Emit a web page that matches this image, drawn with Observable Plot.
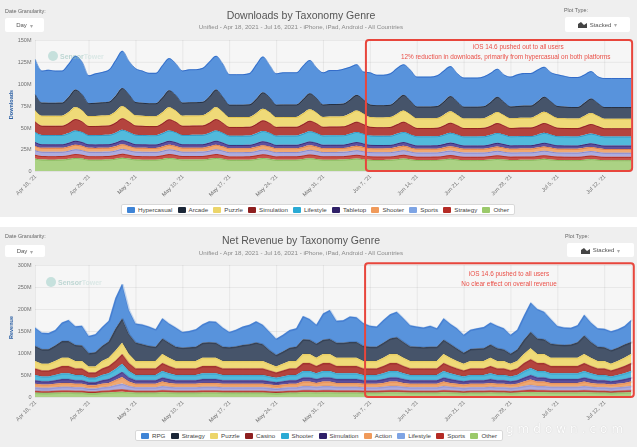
<!DOCTYPE html>
<html><head><meta charset="utf-8">
<script src="https://cdn.jsdelivr.net/npm/d3@7"></script>
<script src="https://cdn.jsdelivr.net/npm/@observablehq/plot@0.6"></script>
<style>
html,body{margin:0;padding:0;background:#fff;}
#root{position:relative;width:637px;height:447px;overflow:hidden;font-family:"Liberation Sans",Arial,Helvetica,sans-serif;}
.panel{position:absolute;left:0;width:637px;background:#efefef;}
.abs{position:absolute;white-space:nowrap;}
.title{left:0;width:602px;text-align:center;font-size:10.5px;color:#555;line-height:12px;}
.sub{left:0;width:602px;text-align:center;font-size:6.2px;color:#8a8a8a;line-height:8px;}
.lbl{font-size:5.4px;color:#666;line-height:7px;}
.dd{position:absolute;background:#fff;border-radius:2px;font-size:6px;color:#555;display:flex;align-items:center;justify-content:center;gap:3px;}
.plotbg{position:absolute;left:35px;width:596px;background:#f6f6f6;}
.ytitle{position:absolute;width:40px;text-align:center;font-size:5.5px;font-weight:bold;color:#2f62a5;transform:rotate(-90deg);line-height:7px;}
.legend{position:absolute;height:11px;background:#fff;border:1px solid #d8d8d8;border-radius:2px;display:flex;align-items:center;justify-content:space-between;padding:0 5px;box-sizing:border-box;font-size:6.2px;color:#444;}
.item{display:flex;align-items:center;}
.sw{width:8px;height:6px;border-radius:1px;margin-right:3px;}
.logo{position:absolute;display:flex;align-items:center;gap:2px;font-size:7px;font-weight:bold;opacity:0.55;}
.logo .c{width:10px;height:10px;border-radius:50%;background:#9fcfc8;}
.chart{position:absolute;left:0;}
.wm{position:absolute;left:506px;top:422px;width:125px;white-space:nowrap;font-size:12px;letter-spacing:4px;line-height:14px;color:#fff;opacity:0.9;font-family:"DejaVu Sans",sans-serif;text-shadow:0 0 1px #bbb;}
</style>
</head><body>
<div id="root">
  <div class="panel" style="top:0;height:217px;">
    <div class="plotbg" style="top:40px;height:131px;"></div>
    <div class="abs lbl" style="left:5px;top:8px;">Date Granularity:</div>
    <div class="dd" style="left:5px;top:18px;width:39px;height:14px;">Day <span style="color:#aaa">▾</span></div>
    <div class="abs title" style="top:9px;">Downloads by Taxonomy Genre</div>
    <div class="abs sub" style="top:23px;">Unified - Apr 18, 2021 - Jul 16, 2021 - iPhone, iPad, Android - All Countries</div>
    <div class="abs lbl" style="left:564px;top:7px;">Plot Type:</div>
    <div class="dd" style="left:565px;top:17px;width:65px;height:15px;"><svg width="9" height="7"><path d="M0,7 L0,3 L3,1 L6,4 L9,2 L9,7 Z" fill="#444"/></svg>Stacked <span style="color:#aaa">▾</span></div>
    <div class="ytitle" style="left:-9px;top:101px;">Downloads</div>
    <div id="chart1" class="chart" style="top:0;"></div>
    <div class="logo" style="left:48px;top:51px;"><div class="c"></div><span style="color:#8fbdb7">Sensor</span><span style="color:#c4ddd9;margin-left:-2px">Tower</span></div>
    <div id="legend1" class="legend" style="left:121px;top:204px;width:394px;"></div>
  </div>
  <div class="panel" style="top:227px;height:220px;">
    <div class="plotbg" style="top:38px;height:132px;"></div>
    <div class="abs lbl" style="left:5px;top:6px;">Date Granularity:</div>
    <div class="dd" style="left:5px;top:18px;width:40px;height:12px;">Day <span style="color:#aaa">▾</span></div>
    <div class="abs title" style="top:7px;">Net Revenue by Taxonomy Genre</div>
    <div class="abs sub" style="top:22px;">Unified - Apr 18, 2021 - Jul 16, 2021 - iPhone, iPad, Android - All Countries</div>
    <div class="abs lbl" style="left:565px;top:6px;">Plot Type:</div>
    <div class="dd" style="left:567px;top:16px;width:67px;height:14px;"><svg width="9" height="7"><path d="M0,7 L0,3 L3,1 L6,4 L9,2 L9,7 Z" fill="#444"/></svg>Stacked <span style="color:#aaa">▾</span></div>
    <div class="ytitle" style="left:-9px;top:97px;">Revenue</div>
    <div id="chart2" class="chart" style="top:0;"></div>
    <div class="logo" style="left:46px;top:50px;"><div class="c"></div><span style="color:#8fbdb7">Sensor</span><span style="color:#c4ddd9;margin-left:-2px">Tower</span></div>
    <div id="legend2" class="legend" style="left:135px;top:203px;width:368px;"></div>
  </div>
  <div class="wm">gmdown.com</div>
</div>
<script>
// ---------- shared x categories ----------
const startDay = "2021-04-18", endDay = "2021-07-16";
const tickLabels = ["2021-04-18","2021-04-26","2021-05-03","2021-05-10","2021-05-17","2021-05-24","2021-05-31","2021-06-07","2021-06-14","2021-06-21","2021-06-28","2021-07-05","2021-07-12"];

// ---------- Downloads (millions / day) ----------
const dlNames = ["Hypercasual","Arcade","Puzzle","Simulation","Lifestyle","Tabletop","Shooter","Sports","Strategy","Other"];
const dlHypercasual = [
40.4,36.8,37.8,36.8,36.8,38,38.7, 37.4,31.8,33.8,34.8,36.8,41,42.7, 38.4,38.8,36.8,34.8,34.8,37,36.7,
36.4,36.8,37.8,37.8,38.8,40,38.7, 38.1,34.9,34.9,34.9,35.9,39.5,41.1, 37.1,35.9,36.9,36.9,36.9,38.5,38.1,
35.1,36.9,38.9,38.9,39.9,37.5,35.1, 32.1,36.9,34.9,34.9,35.9,36.5,35.1, 35.5,34.3,34.3,34.3,35.3,35.5,34.3,
32.5,33.3,33.3,33.3,34.3,33.5,32.3, 31.5,34.3,36.3,37.3,37.3,36.5,34.3, 33.5,36.3,35.3,34.3,34.3,32.5,31.3,
30.5,33.3,33.3,33.3,33.3,33.3];
const dlArcade = [
18,15,15,15,15,17.5,20, 18,14.8,15,15.2,15.5,18,20.5, 18,15.2,15,14.8,14.8,17.2,19.6,
17.6,15,15.2,15.2,15.4,17.6,20, 17,14.2,14.2,14.2,14.4,16.5,18.8, 16.8,14.2,14.3,14.3,14.3,16.4,18.4,
16.4,14.2,14.4,14.4,14.6,16.2,17.8, 16,14.2,14,14,14.2,16,17.8, 15.5,13.5,13.5,13.5,13.7,15.5,17.5,
15.2,13.5,13.5,13.5,13.7,15.3,17.2, 15,13.5,13.7,13.9,13.9,15.5,17.3, 15.3,13.7,13.5,13.3,13.3,15,16.8,
14.8,13.3,13.3,13.3,13.3,13.3];
const dlPuzzle = [
13,11.5,11.5,11.5,11.5,12.5,13.8, 13,11.4,11.5,11.6,11.7,12.7,14, 13,11.6,11.5,11.4,11.4,12.4,13.7,
12.9,11.5,11.6,11.6,11.7,12.6,13.8, 12.6,11.3,11.3,11.3,11.3,12.2,13.3, 12.5,11.3,11.3,11.3,11.3,12.2,13.1,
12.4,11.3,11.4,11.4,11.5,12.1,12.9, 12.2,11.3,11.2,11.2,11.3,12,12.9, 12.2,11,11,11,11.1,12,13,
12,11,11,11,11.1,11.9,12.8, 11.9,11,11.1,11.2,11.2,12,12.8, 12,11.1,11,10.9,10.9,11.7,12.5,
11.8,10.9,10.9,10.9,10.9,10.9];
const dlSimulation = [
12,10.5,10.5,10.5,10.5,11.5,13, 12,10.4,10.5,10.6,10.7,11.7,13.3, 12,10.6,10.5,10.4,10.4,11.4,12.9,
11.9,10.5,10.6,10.6,10.7,11.6,13, 11.5,10,10,10,10,11,12.3, 11.4,10,10,10,10,11,12.1,
11.2,10,10.1,10.1,10.2,10.9,11.8, 11,10,9.9,9.9,10,10.8,11.8, 10.8,9.6,9.6,9.6,9.7,10.5,11.5,
10.6,9.6,9.6,9.6,9.7,10.4,11.3, 10.5,9.6,9.7,9.8,9.8,10.5,11.3, 10.6,9.7,9.6,9.5,9.5,10.2,11,
10.3,9.5,9.5,9.5,9.5,9.5];
const dlLifestyle = [
11.5,10.7,10.7,10.7,10.7,11.1,11.8, 11.5,10.6,10.7,10.8,10.8,11.2,11.9, 11.5,10.8,10.7,10.6,10.6,11.1,11.8,
11.4,10.7,10.7,10.8,10.8,11.1,11.8, 11.3,10.6,10.6,10.6,10.6,11,11.6, 11.3,10.6,10.6,10.6,10.6,11,11.6,
11.2,10.6,10.7,10.7,10.7,11,11.5, 11.1,10.6,10.5,10.5,10.5,11,11.5, 11,10.4,10.4,10.4,10.4,10.8,11.3,
11,10.4,10.4,10.4,10.4,10.8,11.3, 10.9,10.4,10.5,10.5,10.5,10.8,11.3, 10.9,10.5,10.4,10.4,10.4,10.7,11.1,
10.8,10.4,10.4,10.4,10.4,10.4];
const dlTabletop = [
4.4,4,4,4,4,4.3,4.6, 4.4,4,4,4,4,4.3,4.7, 4.4,4,4,4,4,4.3,4.6,
4.4,4,4,4,4,4.3,4.6, 4.3,3.9,3.9,3.9,3.9,4.2,4.5, 4.3,3.9,3.9,3.9,3.9,4.2,4.5,
4.3,3.9,3.9,3.9,3.9,4.2,4.4, 4.2,3.9,3.9,3.9,3.9,4.2,4.4, 4.1,3.8,3.8,3.8,3.8,4,4.3,
4.1,3.8,3.8,3.8,3.8,4,4.3, 4.1,3.8,3.8,3.8,3.8,4,4.3, 4.1,3.8,3.8,3.8,3.8,4,4.2,
4,3.8,3.8,3.8,3.8,3.8];
const dlShooter = [
4.9,4.5,4.5,4.5,4.5,4.8,5.1, 4.9,4.5,4.5,4.5,4.5,4.8,5.2, 4.9,4.5,4.5,4.5,4.5,4.8,5.1,
4.9,4.5,4.5,4.5,4.5,4.8,5.1, 4.8,4.4,4.4,4.4,4.4,4.7,5, 4.8,4.4,4.4,4.4,4.4,4.7,5,
4.8,4.4,4.4,4.4,4.4,4.7,4.9, 4.7,4.4,4.4,4.4,4.4,4.7,4.9, 4.6,4.3,4.3,4.3,4.3,4.5,4.8,
4.6,4.3,4.3,4.3,4.3,4.5,4.8, 4.6,4.3,4.3,4.3,4.3,4.5,4.8, 4.6,4.3,4.3,4.3,4.3,4.5,4.7,
4.5,4.3,4.3,4.3,4.3,4.3];
const dlSports = [
5.3,5,5,5,5,5.2,5.5, 5.3,5,5,5,5,5.2,5.6, 5.3,5,5,5,5,5.2,5.5,
5.3,5,5,5,5,5.2,5.5, 5.2,4.9,4.9,4.9,4.9,5.1,5.4, 5.2,4.9,4.9,4.9,4.9,5.1,5.4,
5.2,4.9,4.9,4.9,4.9,5.1,5.3, 5.1,4.9,4.9,4.9,4.9,5.1,5.3, 5,4.8,4.8,4.8,4.8,5,5.2,
5,4.8,4.8,4.8,4.8,5,5.2, 5,4.8,4.8,4.8,4.8,5,5.2, 5,4.8,4.8,4.8,4.8,5,5.1,
4.9,4.8,4.8,4.8,4.8,4.8];
const dlStrategy = [
4.3,4,4,4,4,4.2,4.5, 4.3,4,4,4,4,4.2,4.6, 4.3,4,4,4,4,4.2,4.5,
4.3,4,4,4,4,4.2,4.5, 4.2,3.9,3.9,3.9,3.9,4.1,4.4, 4.2,3.9,3.9,3.9,3.9,4.1,4.4,
4.2,3.9,3.9,3.9,3.9,4.1,4.3, 4.1,3.9,3.9,3.9,3.9,4.1,4.3, 4,3.8,3.8,3.8,3.8,4,4.2,
4,3.8,3.8,3.8,3.8,4,4.2, 4,3.8,3.8,3.8,3.8,4,4.2, 4,3.8,3.8,3.8,3.8,4,4.1,
3.9,3.8,3.8,3.8,3.8,3.8];
const dlOther = [
14.2,13.1,13,13,13.1,13.9,15, 14.3,13,12.9,13,13.2,14.1,15.2, 14.2,13.2,13,12.9,12.9,13.8,14.9,
14.1,13.1,13.1,13.1,13.2,14,15, 14,12.8,12.8,12.8,12.9,13.8,14.8, 13.9,12.8,12.9,12.9,12.9,13.7,14.6,
13.8,12.9,13,13,13.1,13.6,14.3, 13.5,12.9,12.7,12.7,12.8,13.5,14.3, 13.4,12.6,12.6,12.6,12.7,13.3,14,
13.2,12.5,12.5,12.5,12.6,13.1,13.8, 13.1,12.6,12.7,12.8,12.8,13.3,13.9, 13.2,12.7,12.6,12.5,12.5,13,13.6,
13,12.4,12.4,12.4,12.4,12.4];
const dlTicks = [0,25,50,75,100,125,150];

// ---------- Net revenue (millions $ / day) ----------
const rvNames = ["RPG","Strategy","Puzzle","Casino","Shooter","Simulation","Action","Lifestyle","Sports","Other"];
const rvRPG = [
42,38,37,35,42,48,43,45,39,41, 43,47,70,79,55,43,45,44,40,46, 44,44,36,37,40,42,48,48,44,35,
38,42,44,48,44,42,37,38,40,42, 53,47,43,60,66,50,51,58,56,52, 48,46,52,55,58,54,48,46,45,48,
42,49,46,46,41,44,46,48,50,51, 48,43,45,55,67,67,63,56,42,40, 38,39,47,44,42,42,43,42,42,50];
const rvStrategy = [
34,33,33,35,38,38,36,35,30,32, 34,37,50,55,45,42,38,34,32,35, 34,32,30,31,32,34,35,34,32,31,
33,36,38,42,38,31,26,28,30,32, 33,32,32,32,34,34,34,36,36,34, 32,32,34,35,38,36,33,32,31,32,
32,32,31,28,25,27,28,29,30,29, 26,23,26,32,37,35,33,32,30,29, 30,35,42,36,32,31,31,30,30,27];
const rvPuzzle = [
17,15,15,17,19,19,17,17,14,14, 17,19,22.5,26,21,17,17,17,17,21, 19,17,17,17,17,19,19,19,17,17,
17,17,17,17,17,15,14,15,17,17, 21,21,19,21,21,19,19,19,19,17, 17,17,19,21,21,19,17,17,17,17,
17,21,19,17,15,17,17,17,19,17, 17,15,17,21,25,21,21,19,19,19, 19,19,21,19,17,17,15,17,19,21];
const rvCasino = [
15,13.5,13.5,15,16.5,16.5,15,15,12,12, 15,16.5,19,22,18,15,15,15,15,18, 16.5,15,15,15,15,16.5,16.5,16.5,15,15,
15,15,15,15,15,13.5,12,13.5,15,15, 18,18,16.5,18,18,16.5,16.5,16.5,16.5,15, 15,15,16.5,18,18,16.5,15,15,15,15,
15,18,16.5,15,13.5,15,15,15,16.5,15, 15,13.5,15,18,20,18,18,16.5,16.5,16.5, 16.5,16.5,18,16.5,15,15,13.5,15,16.5,18];
const rvShooter = [
12,11,11,12,13,13,12,12,10,10, 12,13,15,18,14.5,12,12,12,12,14.5, 13,12,12,12,12,13,13,13,12,12,
12,12,12,12,12,11,10,11,12,12, 14.5,14.5,13,14.5,14.5,13,13,13,13,12, 12,12,13,14.5,14.5,13,12,12,12,12,
12,14.5,13,12,11,12,12,12,13,12, 12,11,12,14.5,16,14.5,14.5,13,13,13, 13,13,14.5,13,12,12,11,12,13,14.5];
const rvSimulation = [
8,7.5,7.5,8,8.6,8.6,8,8,7,7, 8,8.6,10,12,9.5,8,8,8,8,9.5, 8.6,8,8,8,8,8.6,8.6,8.6,8,8,
8,8,8,8,8,7.5,7,7.5,8,8, 9.5,9.5,8.6,9.5,9.5,8.6,8.6,8.6,8.6,8, 8,8,8.6,9.5,9.5,8.6,8,8,8,8,
8,9.5,8.6,8,7.5,8,8,8,8.6,8, 8,7.5,8,9.5,10.5,9.5,9.5,8.6,8.6,8.6, 8.6,8.6,9.5,8.6,8,8,7.5,8,8.6,9.5];
const rvAction = [
8,7.5,7.5,8,8.8,8.8,8,8,7,7, 8,8.8,11.5,15,10,8,8,8,8,10, 8.8,8,8,8,8,8.8,8.8,8.8,8,8,
8,8,8,8,8,7.5,7,7.5,8,8, 10,10,8.8,10,10,8.8,8.8,8.8,8.8,8, 8,8,8.8,10,10,8.8,8,8,8,8,
8,10,8.8,8,7.5,8,8,8,8.8,8, 8,7.5,8,10,12,10,10,8.8,8.8,8.8, 8.8,8.8,10,8.8,8,8,7.5,8,8.8,10];
const rvLifestyle = [
8,7.5,7.5,8,8.6,8.6,8,8,7,7, 8,8.6,10.5,13,9.5,8,8,8,8,9.5, 8.6,8,8,8,8,8.6,8.6,8.6,8,8,
8,8,8,8,8,7.5,7,7.5,8,8, 9.5,9.5,8.6,9.5,9.5,8.6,8.6,8.6,8.6,8, 8,8,8.6,9.5,9.5,8.6,8,8,8,8,
8,9.5,8.6,8,7.5,8,8,8,8.6,8, 8,7.5,8,9.5,11,9.5,9.5,8.6,8.6,8.6, 8.6,8.6,9.5,8.6,8,8,7.5,8,8.6,9.5];
const rvSports = [
4,3.8,3.8,4,4.2,4.2,4,4,3.6,3.6, 4,4.2,5,5.5,4.5,4,4,4,4,4.5, 4.2,4,4,4,4,4.2,4.2,4.2,4,4,
4,4,4,4,4,3.8,3.6,3.8,4,4, 4.5,4.5,4.2,4.5,4.5,4.2,4.2,4.2,4.2,4, 4,4,4.2,4.5,4.5,4.2,4,4,4,4,
4,4.5,4.2,4,3.8,4,4,4,4.2,4, 4,3.8,4,4.5,5,4.5,4.5,4.2,4.2,4.2, 4.2,4.2,4.5,4.2,4,4,3.8,4,4.2,4.5];
const rvOther = [
10,9.5,9.5,10,10.5,10.5,10,10,9,9, 10,10.5,11.5,12,11,10,10,10,10,11, 10.5,10,10,10,10,10.5,10.5,10.5,10,10,
10,10,10,10,10,9.5,9,9.5,10,10, 11,11,10.5,11,11,10.5,10.5,10.5,10.5,10, 10,10,10.5,11,11,10.5,10,10,10,10,
10,11,10.5,10,9.5,10,10,10,10.5,10, 10,9.5,10,11,11.5,11,11,10.5,10.5,10.5, 10.5,10.5,11,10.5,10,10,9.5,10,10.5,11];
const rvTicks = [0,50,100,150,200,250,300];

// ---------- annotations ----------
const dlBox = [{start:"2021-06-06T10:00Z", end:"2021-07-16T04:00Z", low:0, high:150}];
const dlNotes = [
  {date:"2021-06-29T02:00Z", value:142.3, label:"iOS 14.6 pushed out to all users"},
  {date:"2021-06-27T05:00Z", value:130.9, label:"12% reduction in downloads, primarily from hypercasual on both platforms"}];
const rvBox = [{start:"2021-06-06T07:00Z", end:"2021-07-16T10:00Z", low:0, high:304}];
const rvNotes = [
  {date:"2021-06-27T17:00Z", value:281, label:"iOS 14.6 pushed to all users"},
  {date:"2021-06-27T17:00Z", value:258, label:"No clear effect on overall revenue"}];

// ---------- styles ----------
const dlFill = ["#5893dc","#46546a","#efda78","#b4443e","#52badc","#5f509e","#efa872","#adacde","#c9524a","#abd284"];
const dlSwatch = ["#3f84d6","#1b2738","#ecd56a","#8e1f1f","#2aaad4","#2f2068","#f09a5a","#7ea4e4","#b52b25","#9bc96a"];
const rvFill = ["#5893dc","#46546a","#efda78","#b4443e","#52badc","#5f509e","#efa872","#adacde","#c9524a","#abd284"];
const rvSwatch = ["#3f84d6","#1b2738","#ecd56a","#8e1f1f","#2aaad4","#2f2068","#f09a5a","#7ea4e4","#b52b25","#9bc96a"];

// ---------- build ----------
const dates = d3.utcDay.range(new Date(startDay + "T00:00Z"), d3.utcDay.offset(new Date(endDay + "T00:00Z"), 1));
const tickDates = tickLabels.map(s => new Date(s + "T00:00Z"));
const fmt = d3.utcFormat("%b %-d, '%y");

function tidy(names, arrays) {
  const rows = [];
  names.forEach((n, k) => arrays[k].forEach((v, i) => rows.push({date: dates[i], series: n, value: v})));
  return rows;
}
const parseAnn = arr => arr.map(d => ({...d, start: d.start && new Date(d.start), end: d.end && new Date(d.end), date: d.date && new Date(d.date)}));

function chart({data, names, colors, yMax, yTicks, curve, marginTop, marginBottom, box, notes}) {
  const order = names.slice().reverse();
  return Plot.plot({
    width: 637, height: 205, marginLeft: 35, marginRight: 6, marginTop, marginBottom,
    style: {background: "transparent", color: "#707070", fontFamily: "'Liberation Sans', Arial, sans-serif", fontSize: "5.5px", overflow: "visible"},
    x: {type: "utc", domain: [dates[0], dates[dates.length - 1]], ticks: tickDates, tickFormat: fmt, tickRotate: -45, tickSize: 0, tickPadding: 4, grid: true, label: null},
    y: {domain: [0, yMax], ticks: yTicks, tickFormat: d => d === 0 ? "0" : d + "M", tickSize: 0, tickPadding: 4, grid: true, label: null},
    color: {domain: names, range: colors},
    marks: [
      Plot.areaY(data, {x: "date", y: "value", z: "series", fill: "series", order, curve}),
      Plot.lineY(data, Plot.stackY2({x: "date", y: "value", z: "series", order, stroke: "series", curve, strokeWidth: 1, strokeOpacity: 0.65, mixBlendMode: "multiply"})),
      Plot.rect(parseAnn(box), {x1: "start", x2: "end", y1: "low", y2: "high", fill: "none", stroke: "#e8463c", strokeWidth: 2, rx: 3}),
      Plot.text(parseAnn(notes), {x: "date", y: "value", text: "label", fill: "#ea5048", fontSize: 6.4})
    ]
  });
}

function legend(el, names, colors) {
  names.forEach((n, i) => {
    const it = document.createElement("div"); it.className = "item";
    const sw = document.createElement("div"); sw.className = "sw"; sw.style.background = colors[i];
    const t = document.createElement("span"); t.textContent = n;
    it.append(sw, t); el.append(it);
  });
}

const dlData = tidy(dlNames, [dlHypercasual, dlArcade, dlPuzzle, dlSimulation, dlLifestyle, dlTabletop, dlShooter, dlSports, dlStrategy, dlOther]);
const rvData = tidy(rvNames, [rvRPG, rvStrategy, rvPuzzle, rvCasino, rvShooter, rvSimulation, rvAction, rvLifestyle, rvSports, rvOther]);

document.getElementById("chart1").append(chart({data: dlData, names: dlNames, colors: dlFill, yMax: 150, yTicks: dlTicks, curve: "monotone-x", marginTop: 40, marginBottom: 34, box: dlBox, notes: dlNotes}));
document.getElementById("chart2").append(chart({data: rvData, names: rvNames, colors: rvFill, yMax: 300, yTicks: rvTicks, curve: "linear", marginTop: 38, marginBottom: 35, box: rvBox, notes: rvNotes}));
legend(document.getElementById("legend1"), dlNames, dlSwatch);
legend(document.getElementById("legend2"), rvNames, rvSwatch);
</script>
</body></html>
